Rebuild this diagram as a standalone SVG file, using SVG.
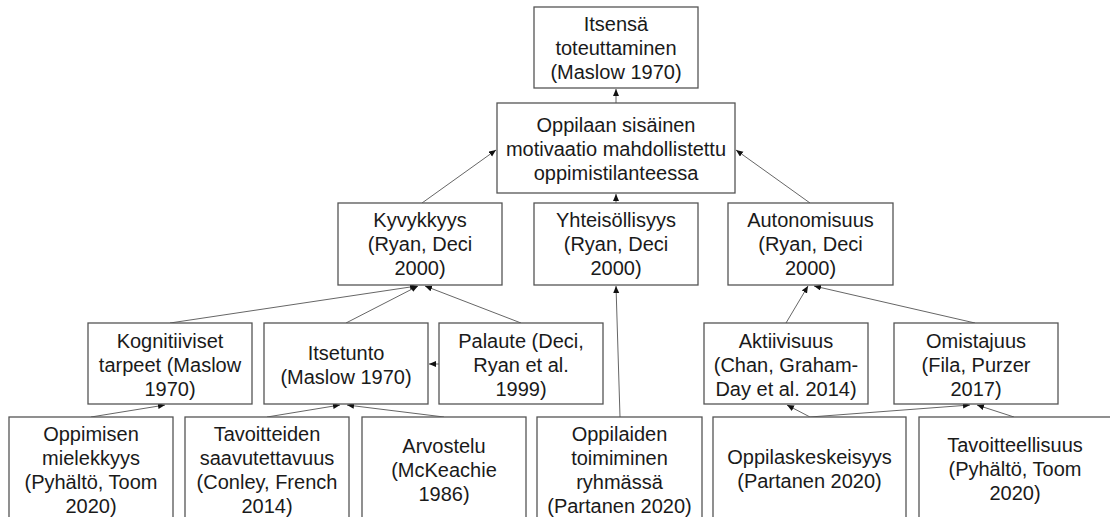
<svg xmlns="http://www.w3.org/2000/svg" width="1110" height="517" viewBox="0 0 1110 517">
<style>
.box{fill:#fff;stroke:#555;stroke-width:1.3}
.t{font-family:"Liberation Sans",Arial,sans-serif;font-size:20px;fill:#1a1a1a;text-anchor:middle}
.c{fill:none;stroke:#666;stroke-width:1;marker-end:url(#ah)}
</style>
<defs>
<marker id="ah" markerUnits="userSpaceOnUse" markerWidth="8" markerHeight="7" refX="7" refY="3" orient="auto">
<path d="M0,0 L7,3 L0,6 z" fill="#111"/>
</marker>
</defs>
<rect width="1110" height="517" fill="#fff"/>
<g id="connectors">
<line class="c" x1="616" y1="103" x2="616" y2="89"/>
<line class="c" x1="422" y1="203" x2="496" y2="150"/>
<line class="c" x1="616" y1="203" x2="616" y2="194"/>
<line class="c" x1="810" y1="203" x2="736" y2="150"/>
<line class="c" x1="170" y1="323" x2="417" y2="286"/>
<line class="c" x1="346" y1="323" x2="418" y2="286"/>
<line class="c" x1="521" y1="323" x2="425" y2="286"/>
<line class="c" x1="439" y1="364" x2="429" y2="364"/>
<line class="c" x1="620" y1="417" x2="616" y2="286"/>
<line class="c" x1="786" y1="323" x2="808" y2="286"/>
<line class="c" x1="975" y1="323" x2="814" y2="286"/>
<line class="c" x1="91" y1="417" x2="165" y2="405"/>
<line class="c" x1="267" y1="417" x2="340" y2="405"/>
<line class="c" x1="444" y1="417" x2="347" y2="405"/>
<line class="c" x1="810" y1="417" x2="787" y2="405"/>
<line class="c" x1="810" y1="417" x2="970" y2="405"/>
<line class="c" x1="1014" y1="417" x2="977" y2="405"/>
</g>
<g id="n-itsensa">
<rect class="box" x="534" y="7" width="164" height="81"/>
<text class="t"><tspan x="616" y="31">Itsensä</tspan><tspan x="616" y="55">toteuttaminen</tspan><tspan x="616" y="79">(Maslow 1970)</tspan></text>
</g>
<g id="n-motivaatio">
<rect class="box" x="497" y="103" width="238" height="90"/>
<text class="t"><tspan x="616" y="132">Oppilaan sisäinen</tspan><tspan x="616" y="156">motivaatio mahdollistettu</tspan><tspan x="616" y="180">oppimistilanteessa</tspan></text>
</g>
<g id="n-kyvykkyys">
<rect class="box" x="338" y="203" width="164" height="82"/>
<text class="t"><tspan x="420" y="227">Kyvykkyys</tspan><tspan x="420" y="251">(Ryan, Deci</tspan><tspan x="420" y="275">2000)</tspan></text>
</g>
<g id="n-yhteisollisyys">
<rect class="box" x="534" y="203" width="164" height="82"/>
<text class="t"><tspan x="616" y="227">Yhteisöllisyys</tspan><tspan x="616" y="251">(Ryan, Deci</tspan><tspan x="616" y="275">2000)</tspan></text>
</g>
<g id="n-autonomisuus">
<rect class="box" x="728" y="203" width="165" height="82"/>
<text class="t"><tspan x="810.5" y="227">Autonomisuus</tspan><tspan x="810.5" y="251">(Ryan, Deci</tspan><tspan x="810.5" y="275">2000)</tspan></text>
</g>
<g id="n-kognitiiviset">
<rect class="box" x="88" y="323" width="164" height="81"/>
<text class="t"><tspan x="170" y="348">Kognitiiviset</tspan><tspan x="170" y="372">tarpeet (Maslow</tspan><tspan x="170" y="396">1970)</tspan></text>
</g>
<g id="n-itsetunto">
<rect class="box" x="264" y="323" width="164" height="81"/>
<text class="t"><tspan x="346" y="360">Itsetunto</tspan><tspan x="346" y="384">(Maslow 1970)</tspan></text>
</g>
<g id="n-palaute">
<rect class="box" x="439" y="323" width="164" height="81"/>
<text class="t"><tspan x="521" y="348">Palaute (Deci,</tspan><tspan x="521" y="372">Ryan et al.</tspan><tspan x="521" y="396">1999)</tspan></text>
</g>
<g id="n-aktiivisuus">
<rect class="box" x="704" y="323" width="164" height="81"/>
<text class="t"><tspan x="786" y="348">Aktiivisuus</tspan><tspan x="786" y="372">(Chan, Graham-</tspan><tspan x="786" y="396">Day et al. 2014)</tspan></text>
</g>
<g id="n-omistajuus">
<rect class="box" x="894" y="323" width="164" height="81"/>
<text class="t"><tspan x="976" y="348">Omistajuus</tspan><tspan x="976" y="372">(Fila, Purzer</tspan><tspan x="976" y="396">2017)</tspan></text>
</g>
<g id="n-oppimisen">
<rect class="box" x="9" y="417" width="164" height="110"/>
<text class="t"><tspan x="91" y="441">Oppimisen</tspan><tspan x="91" y="465">mielekkyys</tspan><tspan x="91" y="489">(Pyhältö, Toom</tspan><tspan x="91" y="513">2020)</tspan></text>
</g>
<g id="n-tavoitteiden">
<rect class="box" x="185" y="417" width="164" height="110"/>
<text class="t"><tspan x="267" y="441">Tavoitteiden</tspan><tspan x="267" y="465">saavutettavuus</tspan><tspan x="267" y="489">(Conley, French</tspan><tspan x="267" y="513">2014)</tspan></text>
</g>
<g id="n-arvostelu">
<rect class="box" x="362" y="417" width="164" height="110"/>
<text class="t"><tspan x="444" y="453">Arvostelu</tspan><tspan x="444" y="477">(McKeachie</tspan><tspan x="444" y="501">1986)</tspan></text>
</g>
<g id="n-oppilaiden">
<rect class="box" x="537" y="417" width="165" height="110"/>
<text class="t"><tspan x="619.5" y="441">Oppilaiden</tspan><tspan x="619.5" y="465">toimiminen</tspan><tspan x="619.5" y="489">ryhmässä</tspan><tspan x="619.5" y="513">(Partanen 2020)</tspan></text>
</g>
<g id="n-oppilaskeskeisyys">
<rect class="box" x="713" y="417" width="193" height="110"/>
<text class="t"><tspan x="809.5" y="464">Oppilaskeskeisyys</tspan><tspan x="809.5" y="488">(Partanen 2020)</tspan></text>
</g>
<g id="n-tavoitteellisuus">
<rect class="box" x="919" y="417" width="192" height="110"/>
<text class="t"><tspan x="1015" y="452">Tavoitteellisuus</tspan><tspan x="1015" y="476">(Pyhältö, Toom</tspan><tspan x="1015" y="500">2020)</tspan></text>
</g>
</svg>
